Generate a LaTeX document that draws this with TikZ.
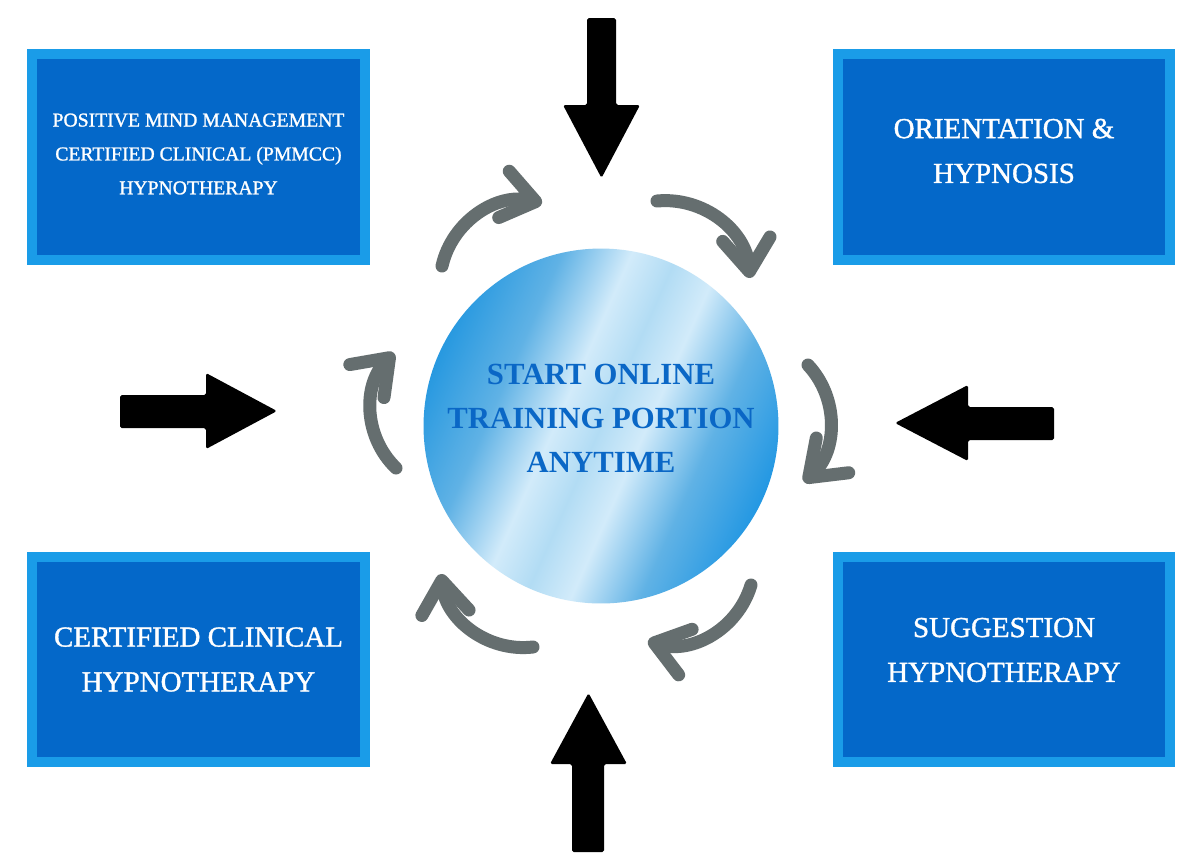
\documentclass[tikz,border=0pt]{standalone}
\usepackage{fontspec}
\setmainfont{Liberation Serif}
\newfontfamily\boxserif[FakeBold=1.2]{Liberation Serif}
\usepackage{tikz}
\usetikzlibrary{arrows.meta}
\definecolor{boxedge}{RGB}{26,156,232}
\definecolor{boxfill}{RGB}{4,104,201}
\definecolor{hubink}{RGB}{10,103,198}
\definecolor{cyclegray}{RGB}{101,110,111}
\definecolor{hubA}{RGB}{40,153,224}
\definecolor{hubB}{RGB}{96,178,229}
\definecolor{hubC}{RGB}{210,235,250}
\definecolor{hubD}{RGB}{178,220,244}
\definecolor{hubE}{RGB}{36,152,227}
\pgfdeclarehorizontalshading{glossy}{100bp}{color(0bp)=(hubA); color(25bp)=(hubA); color(35bp)=(hubB); color(44bp)=(hubC); color(50bp)=(hubD); color(56bp)=(hubC); color(65bp)=(hubB); color(75bp)=(hubE); color(100bp)=(hubE)}

\begin{document}
\begin{tikzpicture}[
  x=0.02cm, y=-0.02cm,
  box/.style={draw=boxedge, line width=0.2cm, fill=boxfill, minimum width=6.66cm, minimum height=4.12cm},
  bigtxt/.style={text=white, align=center, font=\boxserif\fontsize{16.5}{25.5}\selectfont},
  smalltxt/.style={text=white, align=center, font=\boxserif\fontsize{11.2}{19.3}\selectfont},
  hubtxt/.style={text=hubink, align=center, font=\bfseries\fontsize{17.5}{25}\selectfont},
  blk/.style={fill=black, rounded corners=1pt},
  cycarr/.style={draw=cyclegray, line width=0.26cm, line cap=round, -{Straight Barb[round, length=0.65cm, width=0.95cm]}}
]
\useasboundingbox[fill=white] (0,0) rectangle (1200,867);

\node[box] (tl) at (198.5,157) {};
\node[box] (tr) at (1004,157) {};
\node[box] (bl) at (198.5,659.5) {};
\node[box] (br) at (1004,659.5) {};
\node[smalltxt] (tlt) at (198.5,154) {POSITIVE MIND MANAGEMENT\\CERTIFIED CLINICAL (PMMCC)\\HYPNOTHERAPY};
\node[bigtxt] (trt) at (1004,151) {ORIENTATION \&\\HYPNOSIS};
\node[bigtxt] (blt) at (198.5,659.5) {CERTIFIED CLINICAL\\HYPNOTHERAPY};
\node[bigtxt] (brt) at (1004,650) {SUGGESTION\\HYPNOTHERAPY};

\node[circle, minimum size=7.1cm, shade, shading=glossy, shading angle=-24] (hub) at (601,426) {};
\node[hubtxt] (hubt) at (601,418) {START ONLINE\\TRAINING PORTION\\ANYTIME};

\fill[blk] (587,18) -- (616,18) -- (616,105) -- (640,105) -- (601.5,178) -- (563,105) -- (587,105) -- cycle;
\fill[blk] (572,852) -- (604,852) -- (604,764) -- (627,764) -- (588.5,693) -- (550,764) -- (572,764) -- cycle;
\fill[blk] (120,395) -- (206,395) -- (206,373) -- (277,411) -- (206,449) -- (206,428) -- (120,428) -- cycle;
\fill[blk] (1054,407) -- (968,407) -- (968,385) -- (895,423) -- (968,461) -- (968,440) -- (1054,440) -- cycle;

\coordinate (t1) at (442,266); \coordinate (h1) at (542,203);
\coordinate (t2) at (657,201); \coordinate (h2) at (750,278);
\coordinate (t3) at (808,365); \coordinate (h3) at (804,482);
\coordinate (t4) at (751,585); \coordinate (h4) at (648,641);
\coordinate (t5) at (533,647); \coordinate (h5) at (441,574);
\coordinate (t6) at (396,468); \coordinate (h6) at (394,353);
\draw[cycarr] (t1) to[bend left=45] (h1); \draw[cycarr] (t2) to[bend left=45] (h2);
\draw[cycarr] (t3) to[bend left=45] (h3); \draw[cycarr] (t4) to[bend left=45] (h4);
\draw[cycarr] (t5) to[bend left=45] (h5); \draw[cycarr] (t6) to[bend left=45] (h6);
\end{tikzpicture}
\end{document}
